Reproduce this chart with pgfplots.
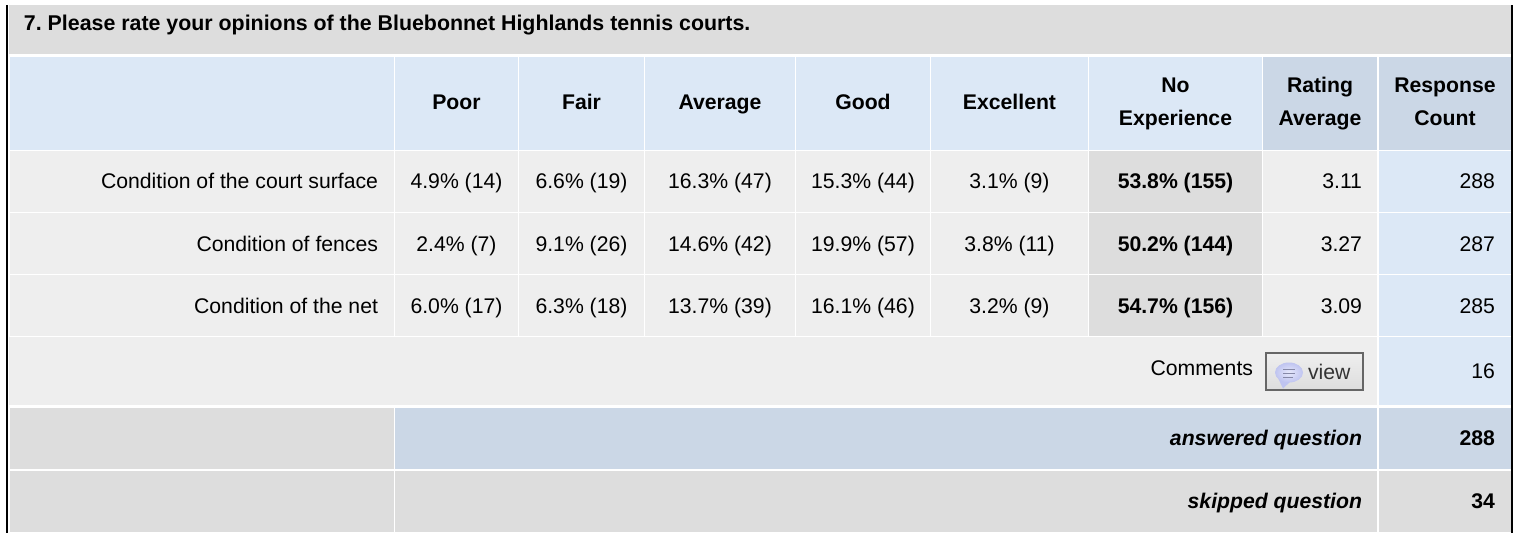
\documentclass[border=0pt]{standalone}
\usepackage{fontspec}
\setmainfont{Liberation Sans}
\usepackage{pgfplots}
\pgfplotsset{compat=1.18}
\frenchspacing
\definecolor{hdr}{HTML}{DCE8F6}
\definecolor{hdrd}{HTML}{CBD7E6}
\definecolor{gd}{HTML}{DDDDDD}
\definecolor{gl}{HTML}{EEEEEE}
\definecolor{bub}{HTML}{BFC4F0}
\definecolor{bubi}{HTML}{E6E8FB}
\newcommand\fs{\fontsize{21.2bp}{25bp}\selectfont}
\newcommand\cell[5]{\addplot[fill=#5,draw=none,mark=none,forget plot] coordinates {(#1,#3)(#2,#3)(#2,#4)(#1,#4)} --cycle;}
% text series: #1 anchor, #2 font extras, #3 coordinates with labels
\newcommand\txt[3]{\addplot[draw=none,mark=none,forget plot,point meta=explicit symbolic,nodes near coords,
   nodes near coords align={anchor=#1},
   every node near coord/.style={anchor=#1,inner sep=0pt,outer sep=0pt,text=black,font=\fs #2}]
   coordinates {#3};}
\begin{document}
\begin{tikzpicture}
\begin{axis}[width=1519bp,height=533bp,scale only axis,hide axis,xmin=0,xmax=1519,ymin=0,ymax=533,y dir=reverse,clip=true]
\cell{0}{1519}{0}{533}{white}
% side bars
\cell{6}{8}{5}{533}{black}
\cell{1511}{1513.3}{5}{533}{black}
% title
\cell{9}{1511}{5}{54}{gd}
% header
\cell{10}{394}{57}{150}{hdr}
\cell{395}{518}{57}{150}{hdr}
\cell{519}{644}{57}{150}{hdr}
\cell{645}{795}{57}{150}{hdr}
\cell{796}{930}{57}{150}{hdr}
\cell{931}{1088}{57}{150}{hdr}
\cell{1089}{1262}{57}{150}{hdr}
\cell{1263}{1377}{57}{150}{hdrd}
\cell{1379}{1511}{57}{150}{hdrd}
% rows 1-3
\cell{10}{394}{151}{212}{gl}
\cell{395}{518}{151}{212}{gl}
\cell{519}{644}{151}{212}{gl}
\cell{645}{795}{151}{212}{gl}
\cell{796}{930}{151}{212}{gl}
\cell{931}{1088}{151}{212}{gl}
\cell{1089}{1262}{151}{212}{gd}
\cell{1263}{1377}{151}{212}{gl}
\cell{1379}{1511}{151}{212}{hdr}
\cell{10}{394}{213}{274}{gl}
\cell{395}{518}{213}{274}{gl}
\cell{519}{644}{213}{274}{gl}
\cell{645}{795}{213}{274}{gl}
\cell{796}{930}{213}{274}{gl}
\cell{931}{1088}{213}{274}{gl}
\cell{1089}{1262}{213}{274}{gd}
\cell{1263}{1377}{213}{274}{gl}
\cell{1379}{1511}{213}{274}{hdr}
\cell{10}{394}{275}{336}{gl}
\cell{395}{518}{275}{336}{gl}
\cell{519}{644}{275}{336}{gl}
\cell{645}{795}{275}{336}{gl}
\cell{796}{930}{275}{336}{gl}
\cell{931}{1088}{275}{336}{gl}
\cell{1089}{1262}{275}{336}{gd}
\cell{1263}{1377}{275}{336}{gl}
\cell{1379}{1511}{275}{336}{hdr}
% comments
\cell{9}{1377}{337}{405}{gl}
\cell{1379}{1511}{337}{405}{hdr}
% answered
\cell{10}{394}{408}{469}{gd}
\cell{395}{1377}{408}{469}{hdrd}
\cell{1379}{1511}{408}{469}{hdrd}
% skipped
\cell{10}{394}{471}{532}{gd}
\cell{395}{1377}{471}{532}{gd}
\cell{1379}{1511}{471}{532}{gd}
% button
\shade[top color=gl!95!white,bottom color=gd] (1266,352.5) rectangle (1362.5,390);
\draw[color=black!60,line width=2bp] (1266,352.5) rectangle (1362.5,390);
\fill[bub] (1277,376) -- (1283,388.5) -- (1291,381) -- cycle;
\shade[inner color=bubi,outer color=bub] (1289,372.5) ellipse [x radius=14bp,y radius=10bp];
\draw[color=bub!70!black,line width=1bp] (1283,369)--(1295,369) (1283,373)--(1295,373) (1283,377)--(1293,377);
\addplot[draw=none,mark=none,forget plot,point meta=explicit symbolic,nodes near coords,
   nodes near coords align={anchor=base west},
   every node near coord/.style={anchor=base west,inner sep=0pt,outer sep=0pt,text=black!80,font=\fs}]
   coordinates {(1308,379)[view]};
% title text
\addplot[draw=none,mark=none,forget plot,point meta=explicit symbolic,nodes near coords,
   nodes near coords align={anchor=base west},
   every node near coord/.style={anchor=base west,inner sep=0pt,outer sep=0pt,text=black,font=\fontsize{21.36bp}{25bp}\selectfont\bfseries}]
   coordinates {(24,31)[7. Please rate your opinions of the Bluebonnet Highlands tennis courts.]};
% header text
\txt{base}{\bfseries}{(456.5,110)[Poor] (581.5,110)[Fair] (720,110)[Average] (863,110)[Good] (1009.5,110)[Excellent]
  (1175.5,93)[No] (1175.5,126)[Experience] (1320,93)[Rating] (1320,126)[Average] (1445,93)[Response] (1445,126)[Count]}
% row labels
\txt{base east}{}{(378,189)[Condition of the court surface] (378,251)[Condition of fences] (378,313)[Condition of the net] (1253,375)[Comments]}
% values
\txt{base}{}{(456.5,189)[4.9\% (14)] (581.5,189)[6.6\% (19)] (720,189)[16.3\% (47)] (863,189)[15.3\% (44)] (1009.5,189)[3.1\% (9)]
  (456.5,251)[2.4\% (7)] (581.5,251)[9.1\% (26)] (720,251)[14.6\% (42)] (863,251)[19.9\% (57)] (1009.5,251)[3.8\% (11)]
  (456.5,313)[6.0\% (17)] (581.5,313)[6.3\% (18)] (720,313)[13.7\% (39)] (863,313)[16.1\% (46)] (1009.5,313)[3.2\% (9)]}
\txt{base}{\bfseries}{(1175.5,189)[53.8\% (155)] (1175.5,251)[50.2\% (144)] (1175.5,313)[54.7\% (156)]}
\txt{base east}{}{(1362,189)[3.11] (1362,251)[3.27] (1362,313)[3.09]
  (1495,189)[288] (1495,251)[287] (1495,313)[285] (1495,378)[16]}
\txt{base east}{\bfseries\itshape}{(1362,445)[answered question] (1362,508)[skipped question]}
\txt{base east}{\bfseries}{(1495,445)[288] (1495,508)[34]}
\end{axis}
\end{tikzpicture}
\end{document}
